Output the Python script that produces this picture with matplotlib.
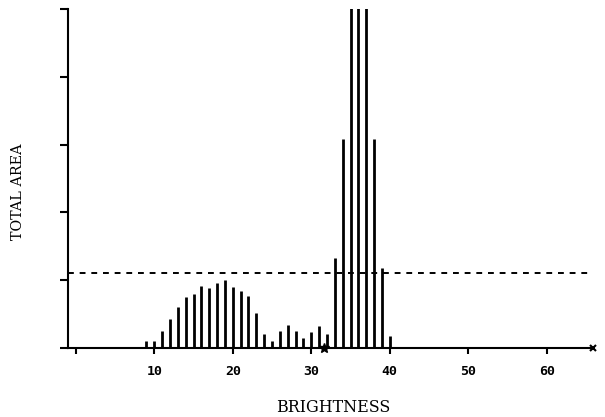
import matplotlib.pyplot as plt

# brightness histogram, heights in axis units (axis runs 0..5, top is clipped)
brightness = list(range(8, 41))
total_area = [0.02, 0.10, 0.10, 0.25, 0.43, 0.60, 0.75, 0.80, 0.91, 0.89,
              0.96, 1.00, 0.90, 0.84, 0.76, 0.52, 0.20, 0.11, 0.25, 0.34,
              0.25, 0.15, 0.23, 0.33, 0.20, 1.33, 3.08, 6.50, 6.50, 6.50,
              3.08, 1.18, 0.18]
threshold = 1.1
marker_x = 31.6
xticks = [0, 10, 20, 30, 40, 50, 60]
xticklabels = ['', '10', '20', '30', '40', '50', '60']

fig = plt.figure(figsize=(6.05, 4.17), dpi=100)
ax = fig.add_axes([68 / 605, (417 - 348) / 417, (593 - 68) / 605, (348 - 9) / 417])

ax.vlines(brightness, 0, total_area, colors='black', linewidth=2.0)
ax.axhline(threshold, color='black', linestyle=(0, (3, 3)), linewidth=1.4)

ax.set_xlim(-1.0, 65.9)
ax.set_ylim(0, 5)

ax.plot([marker_x], [0], marker='*', color='black', markersize=7, clip_on=False)
ax.plot([65.9], [0], marker='x', color='black', markersize=5, mew=1.5, clip_on=False)

for side in ['top', 'right']:
    ax.spines[side].set_visible(False)
for side in ['left', 'bottom']:
    ax.spines[side].set_linewidth(1.5)

ax.set_xticks(xticks)
ax.set_xticklabels(xticklabels, family='DejaVu Sans Mono', fontweight='bold', fontsize=9.5)
ax.set_yticks([0, 1, 2, 3, 4, 5])
ax.set_yticklabels([])
ax.tick_params(axis='x', direction='out', length=4, width=1.5, pad=8)
ax.tick_params(axis='y', direction='out', length=6, width=1.5)

fig.text(333 / 605, 1 - 407 / 417, 'BRIGHTNESS', family='DejaVu Serif',
         fontsize=11.4, ha='center', va='center')
fig.text(18 / 605, 1 - 192 / 417, 'TOTAL AREA', family='DejaVu Serif',
         fontsize=10.4, ha='center', va='center', rotation=90)

fig.savefig('out.png', dpi=100)
